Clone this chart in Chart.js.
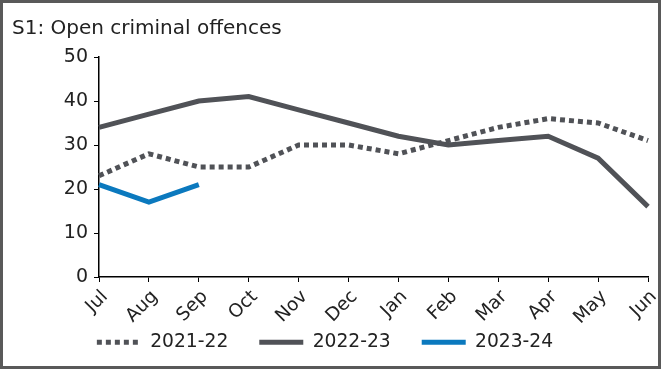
<!DOCTYPE html>
<html>
<head>
<meta charset="utf-8">
<script src="https://cdn.jsdelivr.net/npm/chart.js@4/dist/chart.umd.min.js"></script>
<style>
  html, body { margin: 0; padding: 0; background: #fff; }
  #wrap { width: 661px; height: 369px; position: relative; }
</style>
</head>
<body>
<div id="wrap"><canvas id="c" width="661" height="369"></canvas></div>
<script>
const months = ['Jul', 'Aug', 'Sep', 'Oct', 'Nov', 'Dec', 'Jan', 'Feb', 'Mar', 'Apr', 'May', 'Jun'];
const fy2122 = [23, 28, 25, 25, 30, 30, 28, 31, 34, 36, 35, 31];
const fy2223 = [34, 37, 40, 41, 38, 35, 32, 30, 31, 32, 27, 16];
const fy2324 = [21, 17, 21, null, null, null, null, null, null, null, null, null];
const yTicks = [0, 10, 20, 30, 40, 50];

const FONT = 'DejaVu Sans';
const TEXT = '#222222';
const GREY = '#505257';
const BLUE = '#0b79be';

// outer frame around the whole figure
const framePlugin = {
  id: 'frame',
  afterDraw(chart) {
    const ctx = chart.ctx;
    ctx.save();
    ctx.strokeStyle = '#595959';
    ctx.lineWidth = 3;
    ctx.strokeRect(1.5, 1.5, chart.width - 3, chart.height - 3);
    ctx.restore();
  }
};

// place the legend row just under the slanted month labels
const legendRow = {
  id: 'legendRow',
  afterLayout(chart) {
    const lg = chart.legend;
    if (!lg) return;
    lg.top = 302;
    lg.bottom = 362;
    lg.height = 60;
    lg.right -= 10;
    lg.width -= 10;
  }
};

new Chart(document.getElementById('c'), {
  type: 'line',
  data: {
    labels: months,
    datasets: [
      { label: '2021-22', data: fy2122, borderColor: GREY, backgroundColor: GREY,
        borderWidth: 5, borderDash: [5, 4], order: 2 },
      { label: '2022-23', data: fy2223, borderColor: GREY, backgroundColor: GREY,
        borderWidth: 5, order: 3 },
      { label: '2023-24', data: fy2324, borderColor: BLUE, backgroundColor: BLUE,
        borderWidth: 5, order: 1 }
    ]
  },
  options: {
    responsive: false,
    animation: false,
    devicePixelRatio: 1,
    elements: { point: { radius: 0, hoverRadius: 0 }, line: { tension: 0 } },
    layout: { padding: { left: 12, right: 13, top: 6, bottom: 26 } },
    plugins: {
      tooltip: { enabled: false },
      title: {
        display: true,
        text: 'S1: Open criminal offences',
        align: 'start',
        color: TEXT,
        font: { family: FONT, size: 20, weight: 'normal' },
        padding: { top: 11, bottom: 16 }
      },
      legend: {
        position: 'bottom',
        maxHeight: 10,
        labels: {
          usePointStyle: true,
          pointStyle: 'line',
          pointStyleWidth: 44,
          color: TEXT,
          font: { family: FONT, size: 18.7 },
          padding: 31,
          sort: (a, b) => a.datasetIndex - b.datasetIndex,
          generateLabels(chart) {
            const items = Chart.defaults.plugins.legend.labels.generateLabels(chart);
            return items.map(it => {
              const ds = chart.data.datasets[it.datasetIndex];
              it.lineDash = ds.borderDash || [];
              it.lineWidth = ds.borderWidth;
              it.strokeStyle = ds.borderColor;
              it.pointStyle = 'line';
              return it;
            });
          }
        }
      }
    },
    scales: {
      x: {
        offset: false,
        afterFit(scale) { scale.height = 56; scale.paddingLeft = 0; scale.paddingRight = 0; },
        grid: { display: true, drawOnChartArea: false, drawTicks: true, tickLength: 5, color: '#000' },
        border: { display: true, color: '#000', width: 1.5 },
        ticks: { color: TEXT, font: { family: FONT, size: 18.5 }, maxRotation: 45, minRotation: 45,
                 padding: 4, labelOffset: 6, autoSkip: false }
      },
      y: {
        min: 0, max: 50,
        afterBuildTicks(scale) { scale.ticks = yTicks.map(v => ({ value: v })); },
        afterFit(scale) { scale.width = 87; },
        grid: { display: true, drawOnChartArea: false, drawTicks: true, tickLength: 5, color: '#000' },
        border: { display: true, color: '#000', width: 1.5 },
        ticks: { color: TEXT, font: { family: FONT, size: 19 }, padding: 6 }
      }
    }
  },
  plugins: [framePlugin, legendRow]
});
</script>
</body>
</html>
